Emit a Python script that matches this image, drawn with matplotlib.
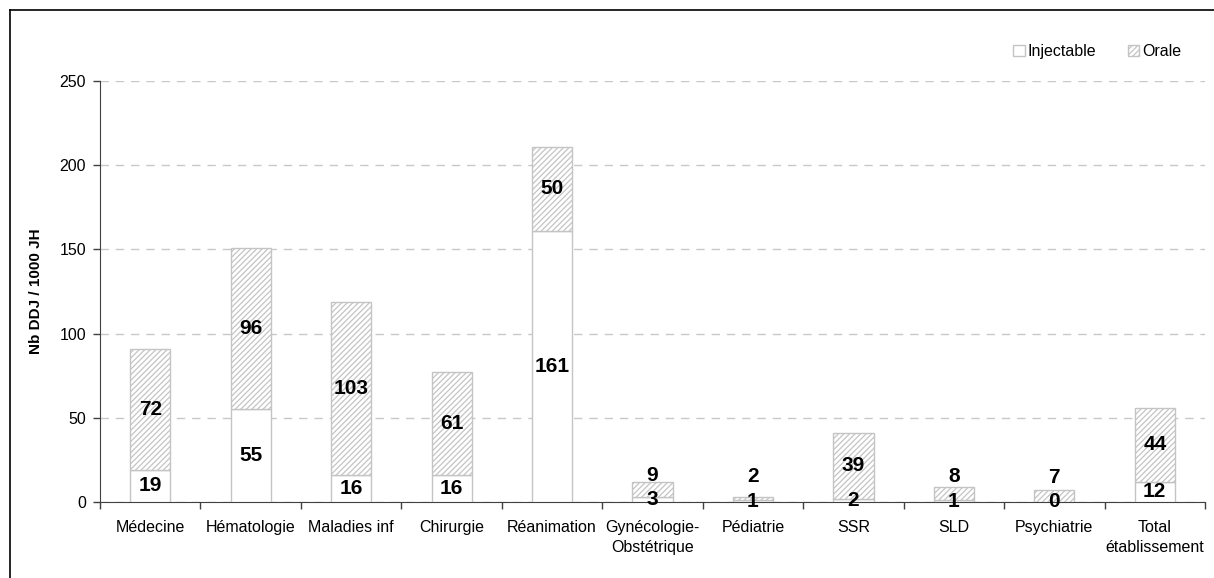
import matplotlib
matplotlib.use('Agg')
import matplotlib.pyplot as plt
import numpy as np
from matplotlib.patches import Patch
from matplotlib.lines import Line2D

categories = ['Médecine', 'Hématologie', 'Maladies inf', 'Chirurgie', 'Réanimation',
              'Gynécologie-\nObstétrique', 'Pédiatrie', 'SSR', 'SLD', 'Psychiatrie',
              'Total\nétablissement']
injectable = [19, 55, 16, 16, 161, 3, 1, 2, 1, 0, 12]
orale = [72, 96, 103, 61, 50, 9, 2, 39, 8, 7, 44]
y_ticks = [0, 50, 100, 150, 200, 250]

plt.rcParams['font.family'] = ['Liberation Sans', 'DejaVu Sans']
plt.rcParams['hatch.linewidth'] = 0.9
plt.rcParams['hatch.color'] = '#8c8c8c'

fig = plt.figure(figsize=(12.14, 5.78), dpi=100)
ax = fig.add_axes([0.0824, 0.1315, 0.9102, 0.7285])

x = np.arange(len(categories))
edge = '#c4c4c4'
ax.bar(x, injectable, width=0.4, color='white', edgecolor=edge, linewidth=1, zorder=3)
ax.bar(x, orale, width=0.4, bottom=injectable, color='white', edgecolor=edge,
       hatch='//////', linewidth=1, zorder=3)

# value labels, centred in each segment, pushed up when segments are tiny
gap = 14.5
for i in range(len(categories)):
    y_inj = injectable[i] / 2
    y_or = max(injectable[i] + orale[i] / 2, y_inj + gap)
    ax.text(x[i], y_inj, str(injectable[i]), ha='center', va='center',
            fontsize=15, fontweight='bold', zorder=5)
    ax.text(x[i], y_or, str(orale[i]), ha='center', va='center',
            fontsize=15, fontweight='bold', zorder=5)

ax.set_xlim(-0.5, len(categories) - 0.5)
ax.set_ylim(0, 250)
ax.set_yticks(y_ticks)
ax.set_yticklabels([str(t) for t in y_ticks], fontsize=11.5)
ax.set_xticks(x)
ax.set_xticklabels(categories, fontsize=11.5, linespacing=1.45)
ax.tick_params(axis='x', which='major', length=0, pad=13)
ax.set_xticks(np.arange(-0.5, len(categories) + 0.5, 1), minor=True)
ax.tick_params(axis='x', which='minor', length=5, width=1, color='#404040', direction='out')
ax.tick_params(axis='y', length=5, width=1, color='#404040', pad=5)

for spine in ['top', 'right']:
    ax.spines[spine].set_visible(False)
ax.spines['left'].set_color('#404040')
ax.spines['bottom'].set_color('#404040')

ax.yaxis.grid(True, linestyle=(0, (6, 5)), color='#c8c8c8', linewidth=1)
ax.set_axisbelow(True)

ax.set_ylabel('Nb DDJ / 1000 JH', fontsize=11, fontweight='bold', labelpad=12)

handles = [Patch(facecolor='white', edgecolor=edge, label='Injectable'),
           Patch(facecolor='white', edgecolor=edge, hatch='//////', label='Orale')]
ax.legend(handles=handles, loc='center right', bbox_to_anchor=(0.979, 1.069),
          frameon=False, fontsize=11.5, ncol=2, handlelength=0.7, handleheight=0.7,
          handletextpad=0.2, columnspacing=2.0, borderpad=0, borderaxespad=0)

# frame around the chart (left and top edges visible)
fig.add_artist(Line2D([10 / 1214, 10 / 1214], [0, 1 - 10 / 578], color='black',
                      linewidth=1.2, transform=fig.transFigure))
fig.add_artist(Line2D([10 / 1214, 1], [1 - 10 / 578, 1 - 10 / 578], color='black',
                      linewidth=1.2, transform=fig.transFigure))

fig.savefig('out.png', dpi=100)
